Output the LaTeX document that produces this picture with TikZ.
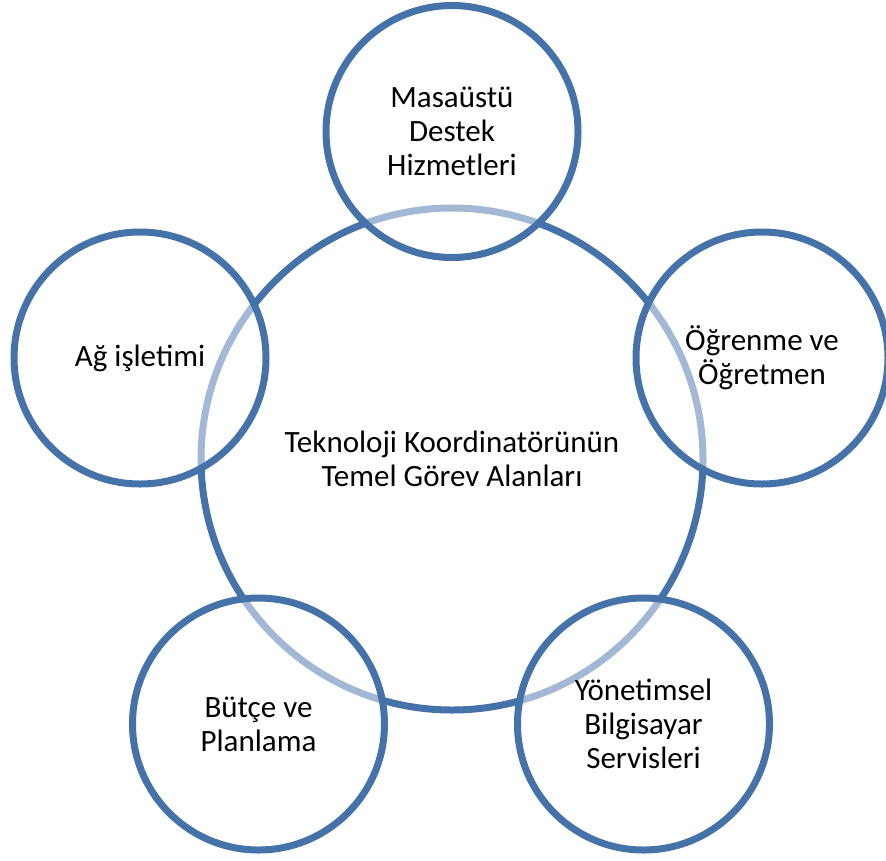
\documentclass[tikz,border=0pt]{standalone}
\usepackage{fontspec}
\setmainfont{Carlito}
\definecolor{ringblue}{HTML}{4672AA}
\begin{document}
\begin{tikzpicture}[x=1pt,y=-1pt,
  hub/.style={circle, draw=ringblue, line width=7pt, minimum size=502pt, inner sep=0pt,
    align=center, font=\fontsize{31}{34.5}\selectfont},
  sat/.style={circle, draw=ringblue, line width=7pt, minimum size=252pt, inner sep=0pt,
    fill=white, fill opacity=0.5, draw opacity=1, text opacity=1,
    align=center, font=\fontsize{31}{34}\selectfont}]
\useasboundingbox (0,0) rectangle (886,860);
\begin{scope}
\clip (0,0) rectangle (886,860);
\node[hub] (hub) at (452,459) {Teknoloji Koordinatörünün\\Temel Görev Alanları};
\node[sat] (s1) at (452,131.5) {Masaüstü\\Destek\\Hizmetleri};
\node[sat] (s2) at (762,358) {Öğrenme ve\\Öğretmen};
\node[sat] (s3) at (643.5,724) {Yönetimsel\\Bilgisayar\\Servisleri};
\node[sat] (s4) at (258.5,724) {Bütçe ve\\Planlama};
\node[sat] (s5) at (140,358) {Ağ işletimi};
\end{scope}
\end{tikzpicture}
\end{document}
